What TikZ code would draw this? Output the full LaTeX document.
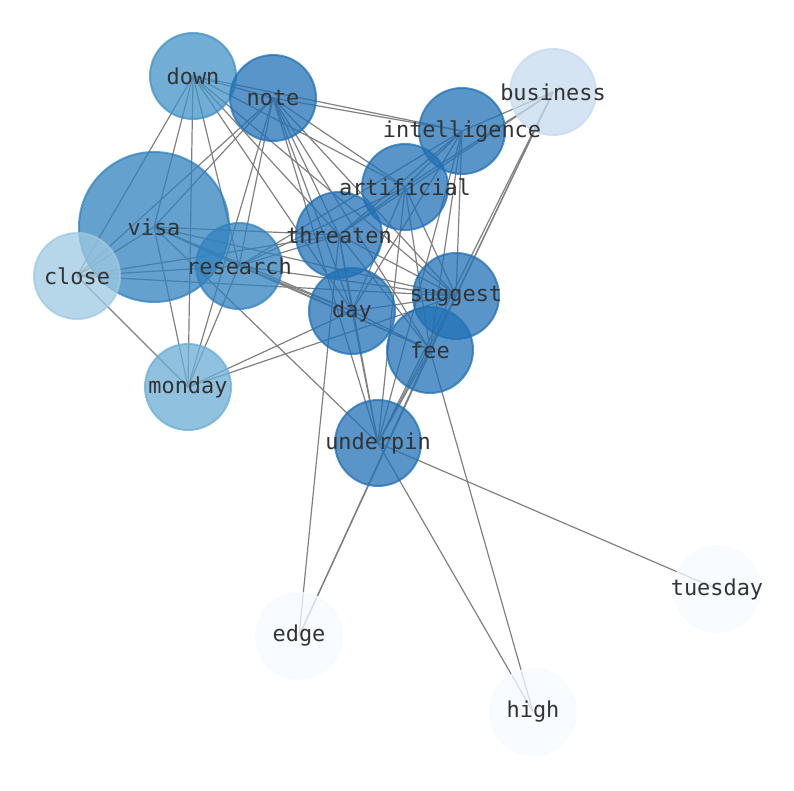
\documentclass[tikz,border=0pt]{standalone}
\usepackage{fontspec}
\setmonofont{DejaVu Sans Mono}
\usetikzlibrary{positioning}
\definecolor{bdark}{RGB}{33,113,181}
\definecolor{bmid}{RGB}{49,130,189}
\definecolor{bdown}{RGB}{66,146,198}
\definecolor{bmon}{RGB}{107,174,214}
\definecolor{bclose}{RGB}{158,202,225}
\definecolor{bbus}{RGB}{198,219,239}
\definecolor{bpale}{RGB}{246,250,255}
\tikzstyle{word} = [circle, draw, inner sep=0pt, minimum size=86pt, line width=2pt, opacity=.75]
\tikzstyle{wordtext} = [text=black!80, font=\fontsize{21.9}{22}\selectfont\ttfamily]
\tikzstyle{link} = [draw=black!50, line width=1.2pt]

\begin{document}
\begin{tikzpicture}[x=1pt, y=-1pt]
    \useasboundingbox (0,0) rectangle (794,790);
    % positions only, nodes are drawn after the links
    \coordinate (down) at (193,76);
    \coordinate (note) at (273,98);
    \coordinate (visa) at (154,227);
    \coordinate (close) at (77,276);
    \coordinate (research) at (239,266);
    \coordinate (threaten) at (339,235);
    \coordinate (artificial) at (405,187);
    \coordinate (intelligence) at (462,131);
    \coordinate (business) at (553,92);
    \coordinate (suggest) at (456,296);
    \coordinate (day) at (352,311);
    \coordinate (fee) at (430,350);
    \coordinate (monday) at (188,387);
    \coordinate (underpin) at (378,443);
    \coordinate (tuesday) at (717,589);
    \coordinate (edge) at (299,636);
    \coordinate (high) at (533,712);
    \foreach \a/\b in {down/note, down/intelligence, down/close, down/visa, down/monday,
        down/research, down/artificial, down/threaten, down/suggest, down/day,
        note/intelligence, note/close, note/monday, note/research, note/artificial,
        note/threaten, note/suggest, note/fee, note/day, note/underpin, note/visa,
        visa/close, visa/monday, visa/research, visa/threaten, visa/day, visa/fee,
        visa/underpin, visa/suggest,
        close/research, close/suggest, close/threaten, close/monday,
        research/threaten, research/artificial, research/intelligence, research/suggest,
        research/day, research/fee, research/monday,
        threaten/artificial, threaten/intelligence, threaten/suggest, threaten/day,
        threaten/fee, threaten/underpin, threaten/edge, threaten/business,
        artificial/intelligence, artificial/suggest, artificial/day, artificial/fee,
        artificial/underpin, artificial/business,
        intelligence/business, intelligence/suggest, intelligence/day, intelligence/fee,
        intelligence/underpin,
        business/suggest, business/fee, business/underpin,
        suggest/day, suggest/fee, suggest/underpin, suggest/edge, suggest/monday,
        day/fee, day/underpin, day/monday,
        fee/underpin, fee/edge, fee/high,
        underpin/tuesday, underpin/high}
        \draw[link] (\a) -- (\b);
    % the words
    \node[word, fill=bdown, draw=bdown] (n-down) at (down) {};
    \node[word, fill=bdark, draw=bdark] (n-note) at (note) {};
    \node[word, fill=bmid, draw=bmid, minimum size=150pt] (n-visa) at (visa) {};
    \node[word, fill=bclose, draw=bclose] (n-close) at (close) {};
    \node[word, fill=bmid, draw=bmid] (n-research) at (research) {};
    \node[word, fill=bdark, draw=bdark] (n-threaten) at (threaten) {};
    \node[word, fill=bdark, draw=bdark] (n-artificial) at (artificial) {};
    \node[word, fill=bdark, draw=bdark] (n-intelligence) at (intelligence) {};
    \node[word, fill=bbus, draw=bbus] (n-business) at (business) {};
    \node[word, fill=bdark, draw=bdark] (n-suggest) at (suggest) {};
    \node[word, fill=bdark, draw=bdark] (n-day) at (day) {};
    \node[word, fill=bdark, draw=bdark] (n-fee) at (fee) {};
    \node[word, fill=bmon, draw=bmon] (n-monday) at (monday) {};
    \node[word, fill=bdark, draw=bdark] (n-underpin) at (underpin) {};
    \node[word, fill=bpale, draw=bpale] (n-tuesday) at (tuesday) {};
    \node[word, fill=bpale, draw=bpale] (n-edge) at (edge) {};
    \node[word, fill=bpale, draw=bpale] (n-high) at (high) {};
    % labels on top
    \foreach \w in {down, note, visa, close, research, threaten, artificial, intelligence,
        business, suggest, day, fee, monday, underpin, tuesday, edge, high}
        \node[wordtext] at (n-\w) {\w};
\end{tikzpicture}
\end{document}
